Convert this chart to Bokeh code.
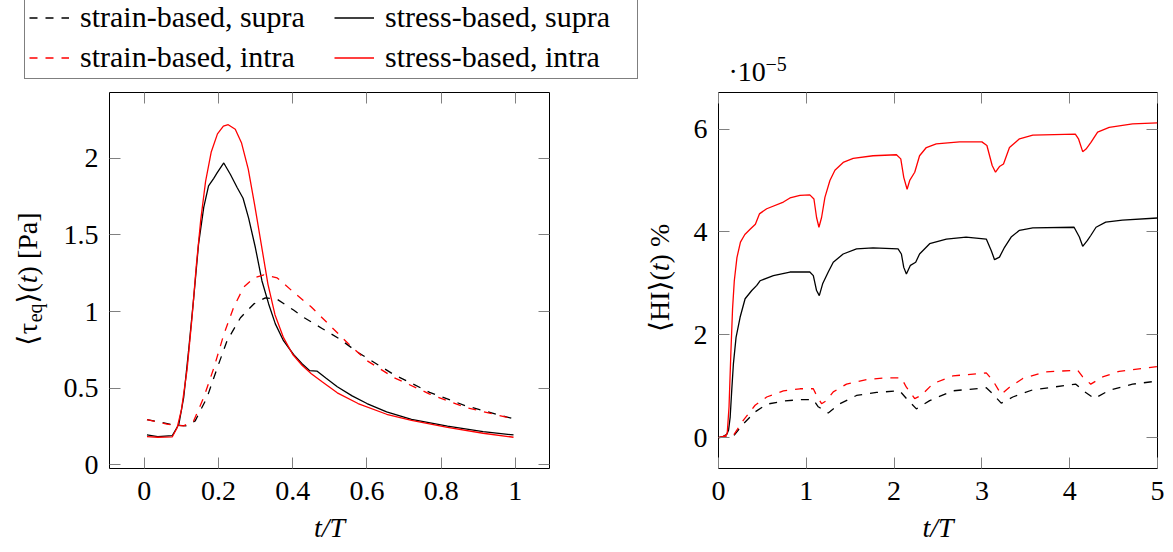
from math import pi
from bokeh.plotting import figure
from bokeh.models import (Legend, LegendItem, LinearAxis, FixedTicker, NumeralTickFormatter,
                          CustomJSTickFormatter, Range1d, Label)
from bokeh.layouts import row, column
from bokeh.embed import file_html
from bokeh.resources import INLINE

FONT = "Liberation Serif"
BRACKET_FONT = "DejaVu Sans"
RED = "#ff0000"
DASH = "8 8"
LW = 1.3

# ---------------- left panel: <tau_eq>(t) [Pa] over one period ----------------
t_stress_supra = [0.007, 0.036, 0.075, 0.093, 0.106, 0.119, 0.133, 0.146, 0.160, 0.173, 0.187, 0.196,
                  0.214, 0.232, 0.250, 0.266, 0.281, 0.299, 0.317, 0.335, 0.353, 0.375, 0.402, 0.425,
                  0.445, 0.465, 0.49, 0.52, 0.56, 0.60, 0.653, 0.72, 0.817, 0.913, 0.995]
tau_stress_supra = [0.195, 0.184, 0.19, 0.265, 0.44, 0.74, 1.09, 1.44, 1.68, 1.82, 1.87, 1.905,
                    1.97, 1.895, 1.81, 1.74, 1.61, 1.42, 1.2, 1.05, 0.92, 0.81, 0.72, 0.66,
                    0.615, 0.612, 0.565, 0.51, 0.45, 0.40, 0.345, 0.297, 0.252, 0.217, 0.195]

t_stress_intra = [0.007, 0.036, 0.075, 0.088, 0.10, 0.115, 0.128, 0.14, 0.152, 0.165, 0.18, 0.197,
                  0.213, 0.226, 0.245, 0.262, 0.28, 0.297, 0.315, 0.333, 0.352, 0.375, 0.40, 0.425,
                  0.45, 0.48, 0.52, 0.576, 0.653, 0.72, 0.817, 0.913, 0.995]
tau_stress_intra = [0.184, 0.18, 0.182, 0.24, 0.36, 0.62, 0.95, 1.3, 1.6, 1.85, 2.04, 2.16,
                    2.21, 2.22, 2.19, 2.1, 1.93, 1.7, 1.44, 1.18, 0.98, 0.83, 0.72, 0.65,
                    0.595, 0.54, 0.47, 0.40, 0.33, 0.29, 0.245, 0.206, 0.18]

t_strain_supra = [0.007, 0.04, 0.079, 0.115, 0.137, 0.169, 0.196, 0.223, 0.259, 0.295, 0.326, 0.358,
                  0.402, 0.431, 0.479, 0.527, 0.576, 0.672, 0.769, 0.865, 0.995]
tau_strain_supra = [0.295, 0.28, 0.26, 0.254, 0.287, 0.44, 0.63, 0.81, 0.96, 1.05, 1.09, 1.08,
                    1.01, 0.96, 0.89, 0.82, 0.733, 0.59, 0.473, 0.386, 0.30]

t_strain_intra = [0.007, 0.061, 0.106, 0.133, 0.16, 0.187, 0.214, 0.241, 0.268, 0.295, 0.322, 0.358,
                  0.41, 0.45, 0.50, 0.55, 0.60, 0.672, 0.769, 0.865, 0.995]
tau_strain_intra = [0.295, 0.265, 0.254, 0.287, 0.44, 0.63, 0.85, 1.03, 1.16, 1.22, 1.24, 1.22,
                    1.11, 1.03, 0.91, 0.79, 0.68, 0.57, 0.462, 0.375, 0.30]

left_xticks = [0, 0.2, 0.4, 0.6, 0.8, 1]
left_yticks = [0, 0.5, 1, 1.5, 2]

# ---------------- right panel: <HI>(t) % (in units of 1e-5) over five periods ----------------
t_hi_stress_intra = [0, 0.05, 0.09, 0.10, 0.12, 0.14, 0.16, 0.18, 0.21, 0.25, 0.30, 0.36, 0.42, 0.466,
                     0.549, 0.739, 0.814, 0.928, 1.04, 1.087, 1.117, 1.144, 1.174, 1.212, 1.269, 1.326,
                     1.42, 1.534, 1.76, 2.027, 2.076, 2.11, 2.148, 2.178, 2.235, 2.29, 2.367, 2.48,
                     2.746, 3.0, 3.057, 3.117, 3.155, 3.2, 3.246, 3.314, 3.428, 3.58, 4.064, 4.1,
                     4.148, 4.186, 4.242, 4.318, 4.45, 4.716, 5.0]
hi_stress_intra = [0, 0.02, 0.05, 0.1, 0.6, 1.6, 2.5, 3.05, 3.5, 3.8, 3.95, 4.05, 4.15, 4.35,
                   4.45, 4.58, 4.66, 4.71, 4.72, 4.64, 4.28, 4.09, 4.28, 4.67, 5.0, 5.2,
                   5.35, 5.43, 5.48, 5.50, 5.42, 5.06, 4.83, 5.0, 5.16, 5.48, 5.64, 5.71,
                   5.75, 5.75, 5.68, 5.29, 5.16, 5.27, 5.32, 5.64, 5.81, 5.88, 5.90, 5.81,
                   5.56, 5.61, 5.74, 5.94, 6.03, 6.10, 6.12]

t_hi_stress_supra = [0, 0.05, 0.095, 0.115, 0.133, 0.15, 0.17, 0.2, 0.246, 0.303, 0.379, 0.436, 0.473,
                     0.625, 0.814, 1.04, 1.08, 1.117, 1.148, 1.186, 1.25, 1.307, 1.42, 1.572, 1.76,
                     2.045, 2.083, 2.11, 2.14, 2.186, 2.246, 2.29, 2.405, 2.595, 2.82, 3.05, 3.106,
                     3.144, 3.2, 3.258, 3.333, 3.428, 3.58, 4.05, 4.11, 4.148, 4.2, 4.24, 4.3,
                     4.41, 4.6, 5.0]
hi_stress_supra = [0, 0.02, 0.065, 0.15, 0.40, 0.9, 1.44, 1.95, 2.34, 2.70, 2.86, 2.96, 3.05,
                   3.15, 3.22, 3.22, 3.15, 2.86, 2.76, 2.99, 3.22, 3.41, 3.57, 3.67, 3.69,
                   3.67, 3.57, 3.31, 3.18, 3.35, 3.41, 3.57, 3.77, 3.86, 3.90, 3.86, 3.64,
                   3.46, 3.51, 3.70, 3.90, 4.03, 4.08, 4.09, 3.90, 3.72, 3.83, 3.93, 4.09,
                   4.19, 4.23, 4.27]

t_hi_strain_intra = [0, 0.17, 0.284, 0.417, 0.549, 0.739, 0.928, 1.08, 1.117, 1.174, 1.23, 1.307,
                     1.458, 1.686, 1.913, 2.083, 2.14, 2.235, 2.31, 2.443, 2.67, 3.05, 3.125, 3.22,
                     3.314, 3.466, 3.73, 4.09, 4.148, 4.24, 4.375, 4.564, 5.0]
hi_strain_intra = [0, 0.045, 0.34, 0.63, 0.79, 0.91, 0.95, 0.95, 0.82, 0.66, 0.72, 0.89,
                   1.04, 1.13, 1.165, 1.16, 0.98, 0.76, 0.82, 1.05, 1.20, 1.26, 1.11, 0.84,
                   0.98, 1.15, 1.28, 1.31, 1.18, 1.04, 1.18, 1.29, 1.38]

t_hi_strain_supra = [0, 0.17, 0.284, 0.417, 0.549, 0.739, 0.928, 1.08, 1.136, 1.25, 1.383, 1.572,
                     1.8, 2.064, 2.14, 2.254, 2.405, 2.67, 3.05, 3.125, 3.22, 3.352, 3.58, 4.07,
                     4.148, 4.28, 4.45, 4.716, 5.0]
hi_strain_supra = [0, 0.03, 0.27, 0.50, 0.65, 0.71, 0.74, 0.74, 0.60, 0.48, 0.66, 0.82,
                   0.88, 0.91, 0.76, 0.56, 0.72, 0.91, 0.97, 0.85, 0.67, 0.79, 0.93, 1.04,
                   0.92, 0.76, 0.92, 1.04, 1.10]

right_xticks = [0, 1, 2, 3, 4, 5]
right_yticks = [0, 2, 4, 6]

legend_labels = ["strain-based, supra", "stress-based, supra",
                 "strain-based, intra", "stress-based, intra"]


def style_axis(ax, ticks, fmt=None, show=True, standoff=10):
    ax.ticker = FixedTicker(ticks=ticks)
    ax.axis_line_color = None
    ax.major_tick_in = 11
    ax.major_tick_out = 0
    ax.major_tick_line_color = "#808080"
    ax.major_tick_line_width = 1
    ax.minor_tick_line_color = None
    ax.major_label_text_font = FONT
    ax.major_label_text_color = "black"
    if show:
        ax.major_label_text_font_size = "28px"
        ax.major_label_standoff = standoff
        if fmt is not None:
            ax.formatter = fmt
    else:
        ax.formatter = CustomJSTickFormatter(code="return ''")
        ax.major_label_text_font_size = "0px"
        ax.major_label_standoff = 0


def make_fig(width, xr, yr, xticks, yticks, fmt, bl, br):
    p = figure(width=width, height=460, x_range=Range1d(*xr), y_range=Range1d(*yr),
               output_backend="svg", toolbar_location=None,
               min_border_left=bl, min_border_right=br, min_border_top=0, min_border_bottom=84)
    p.grid.visible = False
    p.outline_line_color = "black"
    p.outline_line_width = 1
    p.background_fill_color = "white"
    p.border_fill_color = "white"
    style_axis(p.xaxis[0], xticks, fmt, standoff=13)
    style_axis(p.yaxis[0], yticks, fmt, standoff=11)
    p.xaxis[0].axis_label = "t/T"
    p.xaxis[0].axis_label_text_font = FONT
    p.xaxis[0].axis_label_text_font_size = "28px"
    p.xaxis[0].axis_label_text_font_style = "italic"
    p.xaxis[0].axis_label_text_color = "black"
    p.xaxis[0].axis_label_standoff = 9
    top = LinearAxis()
    style_axis(top, xticks, show=False)
    p.add_layout(top, "above")
    right = LinearAxis()
    style_axis(right, yticks, show=False)
    p.add_layout(right, "right")
    return p


def blank_fig(width, height, xr=(0, 1), yr=(0, 1)):
    p = figure(width=width, height=height, x_range=Range1d(*xr), y_range=Range1d(*yr),
               x_axis_type=None, y_axis_type=None, output_backend="svg", toolbar_location=None,
               min_border=0)
    p.grid.visible = False
    p.outline_line_color = None
    p.background_fill_color = "white"
    p.border_fill_color = "white"
    return p


def add_label(p, x, y, text, size="28px", angle=0.0, style="normal", align="left",
              baseline="alphabetic", font=FONT):
    p.add_layout(Label(x=x, y=y, x_units="screen", y_units="screen", text=text, angle=angle,
                       text_font=font, text_font_size=size, text_font_style=style,
                       text_color="black", text_align=align, text_baseline=baseline))


def add_vlabel(p, x, y0, pieces):
    # pieces: (centre offset along the text, text, size, style, font, shift across the text)
    for off, txt, size, style, font, dx in pieces:
        add_label(p, x + dx, y0 + off, txt, size=size, angle=pi / 2, style=style,
                  align="center", baseline="middle", font=font)


fmt_left = NumeralTickFormatter(format="0.[0]")

# ---------------- top strip: legend and exponent ----------------
# the strip's x range lies outside the data, so its lines only serve as legend glyphs
strip = blank_fig(1173, 92, xr=(10, 11), yr=(10, 11))
r_es = strip.line(t_strain_supra, tau_strain_supra, line_color="black", line_width=LW, line_dash=DASH)
r_ss = strip.line(t_stress_supra, tau_stress_supra, line_color="black", line_width=LW)
r_ei = strip.line(t_strain_intra, tau_strain_intra, line_color=RED, line_width=LW, line_dash=DASH)
r_si = strip.line(t_stress_intra, tau_stress_intra, line_color=RED, line_width=LW)
items = [LegendItem(label=lab, renderers=[r]) for lab, r in zip(legend_labels, [r_es, r_ss, r_ei, r_si])]
legend = Legend(items=items, location=(24, 13), orientation="horizontal", ncols=2,
                padding=4, spacing=6, margin=0,
                glyph_width=40, glyph_height=33, label_height=33, label_width=248,
                label_standoff=11, label_text_font=FONT, label_text_font_size="30px",
                label_text_color="black",
                border_line_color="black", border_line_width=1,
                background_fill_color="white", background_fill_alpha=1.0)
strip.add_layout(legend)
add_label(strip, 728, 21, "·10")
add_label(strip, 765, 29, "−5", size="20px")

# ---------------- left y label: <tau_eq>(t) [Pa] ----------------
ylab1 = blank_fig(52, 460)
add_vlabel(ylab1, 26.5, 122.8, [
    (5.5, "⟨", "28px", "normal", BRACKET_FONT, 0),
    (17.2, "τ", "28px", "normal", FONT, 0),
    (32.8, "eq", "20px", "normal", FONT, 7.7),
    (47.7, "⟩", "28px", "normal", BRACKET_FONT, 0),
    (57.9, "(", "28px", "normal", FONT, 0),
    (66.4, "t", "28px", "italic", FONT, 0),
    (101.8, ") [Pa]", "28px", "normal", FONT, 0),
])

# ---------------- left plot ----------------
p1 = make_fig(580, (-0.094, 1.092), (-0.024, 2.43), left_xticks, left_yticks, fmt_left, 57, 83)
p1.line(t_strain_supra, tau_strain_supra, line_color="black", line_width=LW, line_dash=DASH)
p1.line(t_stress_supra, tau_stress_supra, line_color="black", line_width=LW)
p1.line(t_strain_intra, tau_strain_intra, line_color=RED, line_width=LW, line_dash=DASH)
p1.line(t_stress_intra, tau_stress_intra, line_color=RED, line_width=LW)

# ---------------- right y label: <HI>(t) % ----------------
ylab2 = blank_fig(48, 460)
add_vlabel(ylab2, 26.5, 136.5, [
    (5.5, "⟨", "28px", "normal", BRACKET_FONT, 0),
    (25.8, "HI", "28px", "normal", FONT, 0),
    (46.0, "⟩", "28px", "normal", BRACKET_FONT, 0),
    (56.2, "(", "28px", "normal", FONT, 0),
    (64.7, "t", "28px", "italic", FONT, 0),
    (88.4, ") %", "28px", "normal", FONT, 0),
])

# ---------------- right plot ----------------
p2 = make_fig(493, (0, 5), (-0.6, 6.71), right_xticks, right_yticks, None, 38, 16)
p2.line(t_hi_strain_supra, hi_strain_supra, line_color="black", line_width=LW, line_dash=DASH)
p2.line(t_hi_stress_supra, hi_stress_supra, line_color="black", line_width=LW)
p2.line(t_hi_strain_intra, hi_strain_intra, line_color=RED, line_width=LW, line_dash=DASH)
p2.line(t_hi_stress_intra, hi_stress_intra, line_color=RED, line_width=LW)

layout = column(strip, row(ylab1, p1, ylab2, p2))
open("out.html", "w").write(file_html(layout, INLINE))
